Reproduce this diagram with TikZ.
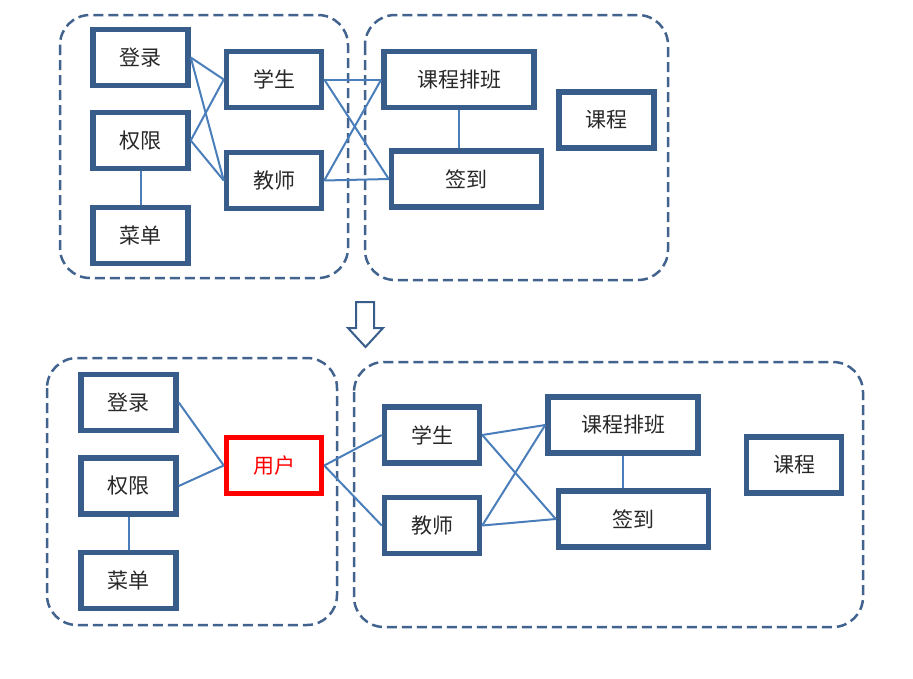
\documentclass[tikz,border=0pt]{standalone}
\usepackage{fontspec}
\newfontfamily\cjk{Noto Sans CJK SC}
\definecolor{boxblue}{RGB}{56,93,138}
\definecolor{dashblue}{RGB}{66,99,142}
\definecolor{lineblue}{RGB}{74,126,187}
\definecolor{textgray}{RGB}{40,40,40}
\tikzset{
	box/.style={draw=boxblue, line width=5.5pt, minimum width=95pt, minimum height=56pt,
		inner sep=0pt, font=\cjk\fontsize{21}{25}\selectfont, text=textgray},
	widebox/.style={box, minimum width=150pt},
	group/.style={draw=dashblue, line width=2.5pt, dash pattern=on 10pt off 5pt, rounded corners=30pt},
	link/.style={draw=lineblue, line width=2pt}
}
\begin{document}
\begin{tikzpicture}[x=1pt,y=-1pt]
			\useasboundingbox (0,0) rectangle (913,678);
			
			% groups
			\draw[group] (60,15) rectangle (348,278);
			\draw[group] (365,15) rectangle (668,280);
			\draw[group] (47,358) rectangle (337,625);
			\draw[group] (354,362) rectangle (863,627);
			
			% before
			\node[box] (dl1) at (140.5,57.5) {登录};
			\node[box] (qx1) at (140.5,140.5) {权限};
			\node[box] (cd1) at (140.5,235.5) {菜单};
			\node[box] (xs1) at (274,79.5) {学生};
			\node[box] (js1) at (274,180.5) {教师};
			\node[widebox] (kp1) at (459,79.5) {课程排班};
			\node[widebox] (qd1) at (466.5,179) {签到};
			\node[box] (kc1) at (606.5,120) {课程};
			
			\foreach \a in {dl1,qx1}{
				\foreach \b in {xs1,js1}
				\draw[link] (\a.east) -- (\b.west);
			}
			\foreach \a in {xs1,js1}{
				\foreach \b in {kp1,qd1}
				\draw[link] (\a.east) -- (\b.west);
			}
			\draw[link] (qx1) -- (cd1);
			\draw[link] (kp1.south) -- (kp1.south |- qd1.north);
			
			% down arrow
			\draw[boxblue, line width=2pt] (356,302) -- (374,302) -- (374,328) -- (383,328)
				-- (365.5,347) -- (348,328) -- (356,328) -- cycle;
			
			% after
			\node[box] (dl2) at (128.5,402.5) {登录};
			\node[box] (qx2) at (128.5,486) {权限};
			\node[box] (cd2) at (128.5,580.5) {菜单};
			\node[box, draw=red, text=red] (yh) at (274,465.5) {用户};
			\node[box] (xs2) at (432,435) {学生};
			\node[box] (js2) at (432,525.5) {教师};
			\node[widebox] (kp2) at (623,425) {课程排班};
			\node[widebox] (qd2) at (633.5,519) {签到};
			\node[box] (kc2) at (794,465) {课程};
			
			\foreach \a in {dl2,qx2}
			\draw[link] (\a.east) -- (yh.west);
			\foreach \b in {xs2,js2}
			\draw[link] (yh.east) -- (\b.west);
			\foreach \a in {xs2,js2}{
				\foreach \b in {kp2,qd2}
				\draw[link] (\a.east) -- (\b.west);
			}
			\draw[link] (qx2) -- (cd2);
			\draw[link] (kp2.south) -- (kp2.south |- qd2.north);
\end{tikzpicture}
\end{document}
